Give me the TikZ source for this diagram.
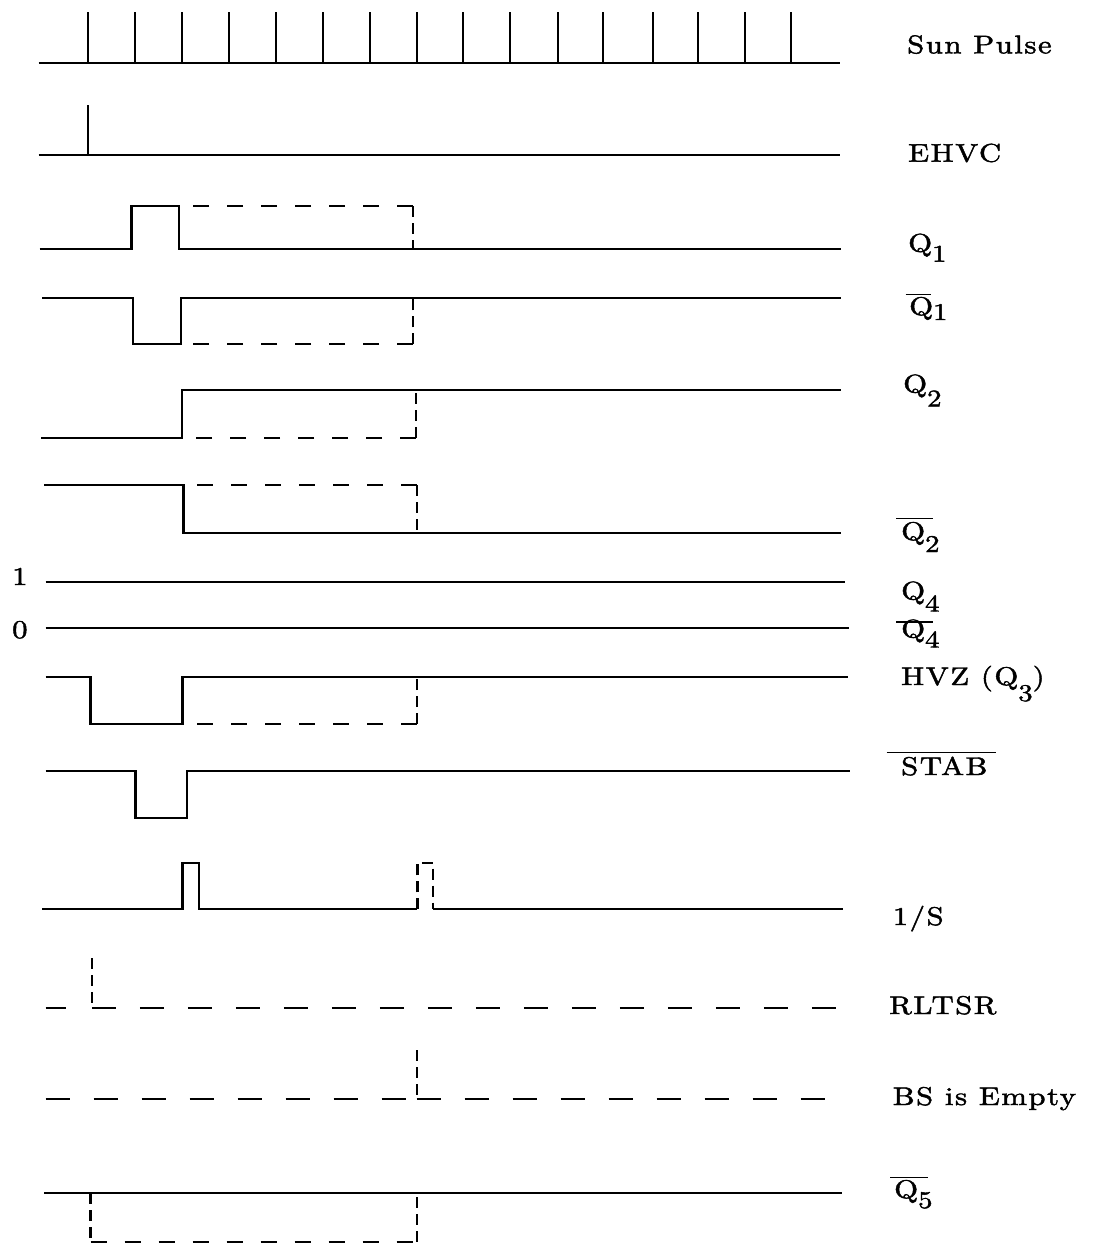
\documentclass[tikz,border=0pt]{standalone}
\usepackage{fontspec}
\newfontfamily\labfam{lmroman10-regular.otf}[FakeStretch=1.2, LetterSpace=6, FakeBold=1.8]
\newcommand\labfont{\labfam\fontsize{25.6}{30}\selectfont}
\newcommand\sbs[2][10pt]{\raisebox{-#1}{\fontsize{24}{24}\selectfont #2}}
\begin{document}
\begin{tikzpicture}[x=1pt,y=-1pt,
  wave/.style={line width=2.2pt, line join=miter},
  dsh/.style={wave, dash pattern=on 16pt off 18pt},
  dshv/.style={wave, dash pattern=on 11pt off 6pt},
  dshl/.style={wave, dash pattern=on 24pt off 24pt},
  ovl/.style={line width=1.6pt},
  lab/.style={anchor=base west, inner sep=0pt, font=\labfont}]
\useasboundingbox (0,0) rectangle (1101,1245);

% Sun Pulse
\draw[wave] (38.6,62.7) -- (840,62.7);
\foreach \x in {88,135,182,229,276,323,370,417,463,510,558,603,653,698,745,791}
  \draw[wave] (\x,62.7) -- (\x,12);

% EHVC
\draw[wave] (38.6,155) -- (840,155);
\draw[wave] (87.7,155) -- (87.7,105);

% Q1
\draw[wave] (39.6,249.3) -- (131.5,249.3) -- (131.5,206) -- (179,206) -- (179,249.3) -- (841,249.3);
\draw[dsh] (413,206) -- (189,206);
\draw[dshv] (413,206) -- (413,249.3);

% Q1 bar
\draw[wave] (42,297.7) -- (132.6,297.7) -- (132.6,344.3) -- (180.6,344.3) -- (180.6,297.7) -- (841,297.7);
\draw[dsh] (413,344.3) -- (190,344.3);
\draw[dshv] (413,344.3) -- (413,297.7);

% Q2
\draw[wave] (41,437.7) -- (181.7,437.7) -- (181.7,390) -- (841,390);
\draw[dsh] (416,437.7) -- (188,437.7);
\draw[dshv] (416,437.7) -- (416,390);

% Q2 bar
\draw[wave] (44,485) -- (183.4,485) -- (183.4,533.3) -- (841,533.3);
\draw[dsh] (416.7,485) -- (190,485);
\draw[dshv] (416.7,485) -- (416.7,533.3);

% Q4 / Q4 bar
\draw[wave] (45.6,581.7) -- (844.5,581.7);
\draw[wave] (45.6,628.3) -- (849,628.3);

% HVZ (Q3)
\draw[wave] (45.6,676.7) -- (90.5,676.7) -- (90.5,724) -- (182.4,724) -- (182.4,676.7) -- (848,676.7);
\draw[dsh] (416.7,724) -- (189,724);
\draw[dshv] (416.7,724) -- (416.7,676.7);

% STAB bar
\draw[wave] (45.6,771) -- (135.4,771) -- (135.4,817.7) -- (187,817.7) -- (187,771) -- (850,771);

% 1/S
\draw[wave] (42,909.3) -- (182.4,909.3) -- (182.4,862.7) -- (199.2,862.7) -- (199.2,909.3) -- (417.4,909.3);
\draw[dshv] (417.4,909.3) -- (417.4,862.7) -- (433,862.7) -- (433,909.3);
\draw[wave] (433,909.3) -- (843,909.3);

% RLTSR
\draw[dshl] (45.6,1007.7) -- (66,1007.7);
\draw[dshv] (91.9,958.3) -- (91.9,1007.7);
\draw[dshl] (91.9,1007.7) -- (844.5,1007.7);

% BS is Empty
\draw[dshl] (45.6,1099.3) -- (416.7,1099.3);
\draw[dshv] (416.7,1050) -- (416.7,1099.3);
\draw[dshl] (416.7,1099.3) -- (841.6,1099.3);

% Q5 bar
\draw[wave] (44,1193.3) -- (842,1193.3);
\draw[dshv] (90.5,1193.3) -- (90.5,1241.7);
\draw[dsh] (90.5,1241.7) -- (416.7,1241.7);
\draw[dshv] (416.7,1241.7) -- (416.7,1193.3);

% labels
\node[lab] (lsun) at (907,53.3) {Sun Pulse};
\node[lab] (lehvc) at (908,161.7) {EHVC};
\node[lab] (lq1) at (908,251.7) {Q\sbs[10pt]{1}};
\node[lab] (lq1b) at (909,315) {Q\sbs[5pt]{1}};
\draw[ovl] (905.6,294.3) -- (931,294.3);
\node[lab] (lq2) at (903,392.5) {Q\sbs[14pt]{2}};
\node[lab] (lq2b) at (901,540) {Q\sbs[12pt]{2}};
\draw[ovl] (896,518.3) -- (933,518.3);
\node[lab] (lq4) at (901,599.5) {Q\sbs[12pt]{4}};
\node[lab] (lq4b) at (901,637.5) {Q\sbs[10pt]{4}};
\draw[ovl] (896,621.7) -- (933,621.7);
\node[lab] (lhvz) at (901,685) {HVZ (Q\sbs[16pt]{3})};
\node[lab] (lstab) at (901,775) {STAB};
\draw[ovl] (886.6,752.3) -- (996,752.3);
\node[lab] (ls) at (892.6,925) {1/S};
\node[lab] (lrl) at (889,1014) {RLTSR};
\node[lab] (lbs) at (892.6,1105) {BS is Empty};
\node[lab] (lq5b) at (894,1198) {Q\sbs[10pt]{5}};
\draw[ovl] (890,1177.3) -- (928,1177.3);
\node[lab] (l1) at (12,585) {1};
\node[lab] (l0) at (12,638) {0};
\end{tikzpicture}
\end{document}
